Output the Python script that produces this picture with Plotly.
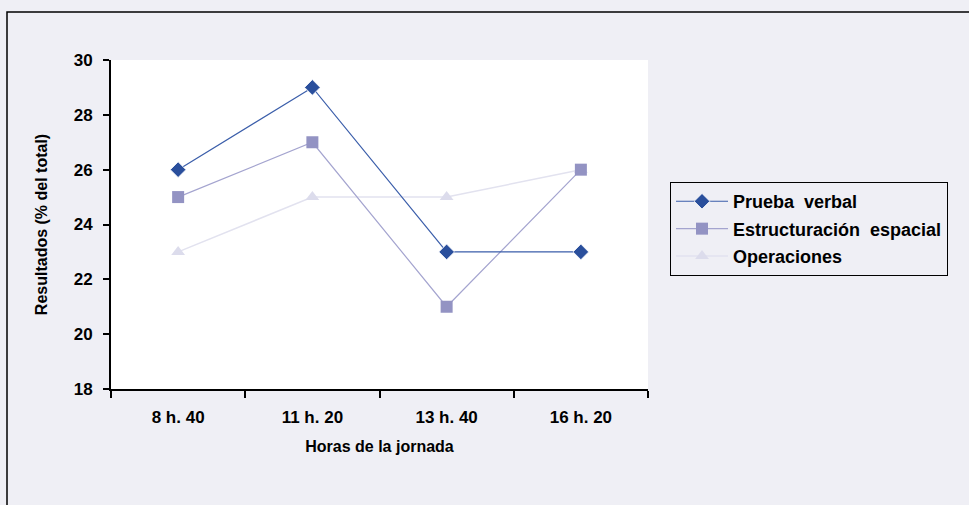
import plotly.graph_objects as go

categories = ["8 h. 40", "11 h. 20", "13 h. 40", "16 h. 20"]
prueba_verbal = [26, 29, 23, 23]
estructuracion = [25, 27, 21, 26]
operaciones = [23, 25, 25, 26]
y_ticks = [18, 20, 22, 24, 26, 28, 30]

FONT = "Liberation Sans, Arial, sans-serif"

fig = go.Figure()
fig.add_trace(go.Scatter(
    x=categories, y=operaciones, name="Operaciones", mode="lines+markers",
    line=dict(color="#e2e2ef", width=1.5),
    marker=dict(symbol="triangle-up", size=12, color="#dcdcec"),
    legendrank=3, legendgroup="c",
))
fig.add_trace(go.Scatter(
    x=categories, y=estructuracion, name="Estructuración  espacial", mode="lines+markers",
    line=dict(color="#a4a4cf", width=1.2),
    marker=dict(symbol="square", size=12, color="#9393c3"),
    legendrank=2, legendgroup="b",
))
fig.add_trace(go.Scatter(
    x=categories, y=prueba_verbal, name="Prueba  verbal", mode="lines+markers",
    line=dict(color="#3b5eaa", width=1.2),
    marker=dict(symbol="diamond", size=12, color="#2a4f9c",
                line=dict(color="#ffffff", width=0.8)),
    legendrank=1, legendgroup="a",
))

fig.update_layout(
    width=969, height=505,
    margin=dict(l=111, r=321, t=60, b=116),
    paper_bgcolor="#efeff5",
    plot_bgcolor="#ffffff",
    font=dict(family=FONT, color="#000000"),
    showlegend=True,
    legend=dict(
        x=1.041, y=0.629, xanchor="left", yanchor="top",
        bgcolor="rgba(0,0,0,0)", bordercolor="#000000", borderwidth=1,
        font=dict(family=FONT, size=18, color="#000000", weight="bold"),
        tracegroupgap=1, itemwidth=52,
        traceorder="grouped",
    ),
    xaxis=dict(
        type="category", range=[-0.5, 3.5],
        showline=True, linecolor="#000000", linewidth=2,
        ticks="outside", tickson="boundaries", ticklen=7, tickwidth=1.5, tickcolor="#000000",
        showgrid=False, zeroline=False,
        tickfont=dict(family=FONT, size=17, weight="bold"),
        ticklabelstandoff=12,
        title=dict(text="Horas de la jornada", font=dict(family=FONT, size=16, weight="bold"),
                   standoff=14),
    ),
    yaxis=dict(
        range=[18, 30], tickvals=y_ticks,
        showline=True, linecolor="#000000", linewidth=2,
        ticks="outside", ticklen=6, tickwidth=1.5, tickcolor="#000000",
        showgrid=False, zeroline=False,
        tickfont=dict(family=FONT, size=17, weight="bold"),
        ticklabelstandoff=7,
        title=dict(text="Resultados (% del total)", font=dict(family=FONT, size=16, weight="bold"),
                   standoff=22),
    ),
    shapes=[dict(
        type="rect", xref="paper", yref="paper",
        x0=(7 - 111) / 537, x1=1.7, y0=-0.6, y1=(389 - 12) / 329,
        line=dict(color="#000000", width=1.5), fillcolor="rgba(0,0,0,0)", layer="below",
    )],
)

fig.write_html("out.html", config={"displayModeBar": False},
               post_script="document.body.style.margin='0';")
